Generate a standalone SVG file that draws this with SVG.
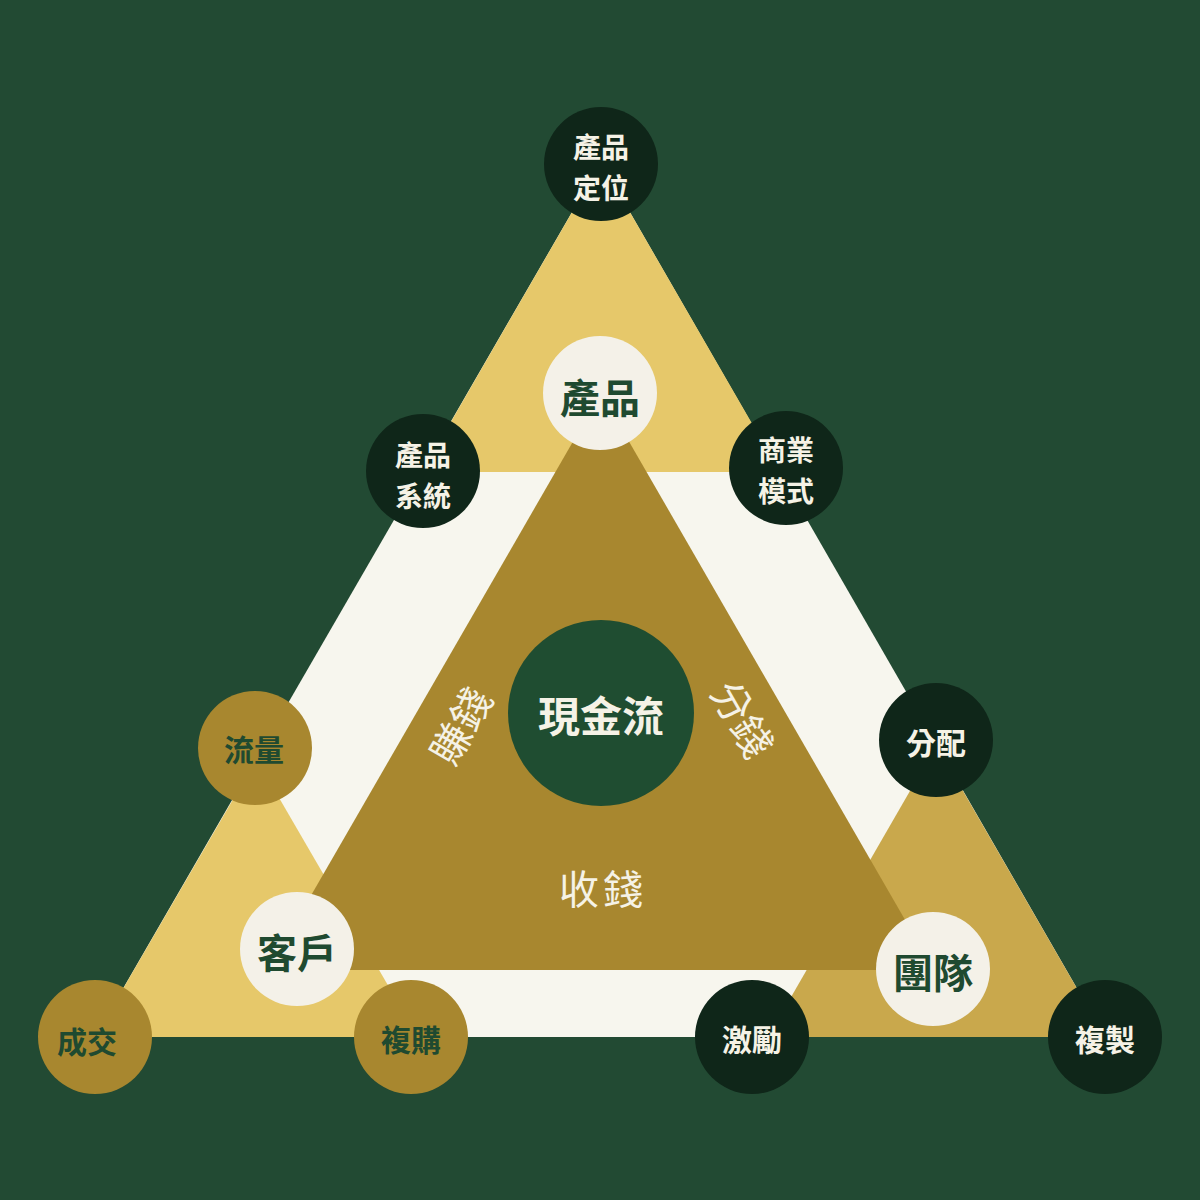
<svg xmlns="http://www.w3.org/2000/svg" width="1200" height="1200" viewBox="0 0 1200 1200">
  <style>
    .t { font-family: "Noto Sans CJK TC", "Noto Sans CJK SC", "Noto Sans", sans-serif; text-anchor: middle; dominant-baseline: central; }
    .dark { fill: #0f2619; }
    .gold { fill: #a8872f; }
    .light { fill: #f4f1e8; }
    .wt { fill: #f5f2e6; font-weight: 700; font-size: 30px; }
    .wt2 { fill: #f5f2e6; font-weight: 700; font-size: 28px; }
    .gt { fill: #1f4a30; font-weight: 700; font-size: 30px; }
    .lt { fill: #1f4a30; font-weight: 700; font-size: 40px; }
    .edge { fill: #f5f2e6; font-weight: 400; font-size: 40px; }
  </style>
  <rect x="0" y="0" width="1200" height="1200" fill="#224a33"/>

  <g id="shapes">
    <polygon id="outer" points="601,162 95,1037 1105,1037" fill="#f7f6ee"/>
    <polygon id="top-tri" points="601,162 422,472 780,472" fill="#e6c86a"/>
    <polygon id="bl-tri" points="256.5,759 95,1037 418,1037" fill="#e6c86a"/>
    <polygon id="br-tri" points="936.5,745 768,1037 1105,1037" fill="#c9a84c"/>
    <polygon id="inner" points="601,393 268,970 934,970" fill="#a8872f"/>
  </g>

  <g id="connectors"></g>

  <g id="center">
    <circle cx="601" cy="713" r="93" fill="#1f4d31"/>
    <text class="t" x="601" y="713" fill="#f5f2e6" font-weight="700" font-size="42">現金流</text>
  </g>

  <g id="label-zhuanqian">
    <text class="t edge" transform="translate(459,725) rotate(-60)">賺錢</text>
  </g>
  <g id="label-fenqian">
    <text class="t edge" transform="translate(744,718) rotate(60)">分錢</text>
  </g>
  <g id="label-shouqian">
    <text class="t edge" x="603" y="887" font-size="42" letter-spacing="4">收錢</text>
  </g>

  <g id="node-chanpin-dingwei">
    <circle class="dark" cx="601" cy="164" r="57"/>
    <text class="t wt2" x="601" y="146">產品</text>
    <text class="t wt2" x="601" y="187">定位</text>
  </g>
  <g id="node-chanpin-xitong">
    <circle class="dark" cx="423" cy="471" r="57"/>
    <text class="t wt2" x="423" y="454">產品</text>
    <text class="t wt2" x="423" y="495">系統</text>
  </g>
  <g id="node-shangye-moshi">
    <circle class="dark" cx="786" cy="468" r="57"/>
    <text class="t wt2" x="786" y="449">商業</text>
    <text class="t wt2" x="786" y="490">模式</text>
  </g>
  <g id="node-fenpei">
    <circle class="dark" cx="936" cy="740" r="57"/>
    <text class="t wt" x="936" y="741">分配</text>
  </g>
  <g id="node-jili">
    <circle class="dark" cx="752" cy="1037" r="57"/>
    <text class="t wt" x="752" y="1038">激勵</text>
  </g>
  <g id="node-fuzhi">
    <circle class="dark" cx="1105" cy="1037" r="57"/>
    <text class="t wt" x="1105" y="1038">複製</text>
  </g>

  <g id="node-liuliang">
    <circle class="gold" cx="255" cy="748" r="57"/>
    <text class="t gt" x="254" y="748">流量</text>
  </g>
  <g id="node-chengjiao">
    <circle class="gold" cx="95" cy="1037" r="57"/>
    <text class="t gt" x="87" y="1040">成交</text>
  </g>
  <g id="node-fugou">
    <circle class="gold" cx="411" cy="1037" r="57"/>
    <text class="t gt" x="411" y="1038">複購</text>
  </g>

  <g id="node-chanpin">
    <circle class="light" cx="600" cy="393" r="57"/>
    <text class="t lt" x="600" y="396">產品</text>
  </g>
  <g id="node-kehu">
    <circle class="light" cx="297" cy="949" r="57"/>
    <text class="t lt" x="297" y="951">客戶</text>
  </g>
  <g id="node-tuandui">
    <circle class="light" cx="933" cy="969" r="57"/>
    <text class="t lt" x="933" y="971">團隊</text>
  </g>
</svg>
